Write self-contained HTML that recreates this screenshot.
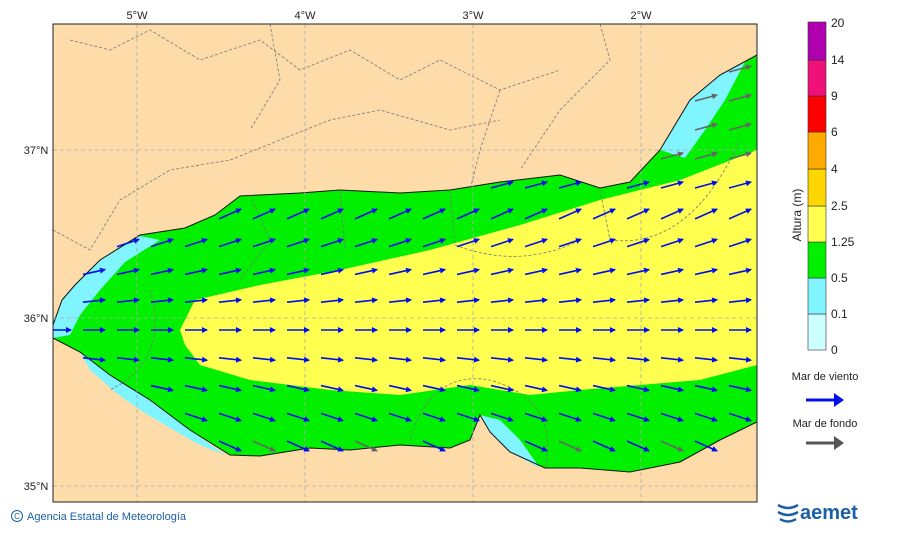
<!DOCTYPE html>
<html><head><meta charset="utf-8"><style>
body{margin:0;background:#fff;width:900px;height:533px;overflow:hidden;font-family:"Liberation Sans","DejaVu Sans",sans-serif}
</style></head><body>
<svg id="s" width="900" height="533" viewBox="0 0 900 533" xmlns="http://www.w3.org/2000/svg">
<defs><clipPath id="c"><rect x="53" y="24" width="704" height="478"/></clipPath>
<marker id="mb" markerWidth="6" markerHeight="6" refX="5" refY="3" orient="auto" markerUnits="userSpaceOnUse"><path d="M0,0 L6,3 L0,6z" fill="#0010e8"/></marker>
<marker id="mg" markerWidth="6" markerHeight="6" refX="5" refY="3" orient="auto" markerUnits="userSpaceOnUse"><path d="M0,0 L6,3 L0,6z" fill="#666"/></marker>
</defs>
<g clip-path="url(#c)">
<rect x="53" y="24" width="704" height="478" fill="#fddcaa"/>
<path id="sea" d="M53,325 L62,300 L75,285 L100,260 L140,235 L185,228 L215,215 L240,196 L300,193 L340,190 L400,193 L450,190 L500,182 L560,175 L600,188 L630,182 L660,150 L690,100 L720,75 L757,55 L757,422 L720,440 L680,462 L630,472 L580,468 L545,468 L510,452 L490,432 L480,415 L470,440 L450,448 L400,445 L350,450 L310,448 L260,456 L230,455 L190,430 L150,400 L110,375 L80,352 L53,338 Z" fill="#00f000"/>
<path d="M53,322 L62,300 L75,285 L100,260 L140,236 L160,240 L125,262 L100,290 L80,315 L70,335 L53,338Z" fill="#80f4ff"/>
<path d="M80,352 L110,375 L150,400 L190,430 L225,455 L200,445 L170,428 L140,410 L115,392 L90,370Z" fill="#80f4ff"/>
<path d="M660,150 L690,100 L720,75 L745,62 L725,100 L705,130 L685,158 Z" fill="#80f4ff"/>
<path d="M480,415 L490,432 L510,452 L540,468 L520,440 L500,420Z" fill="#80f4ff"/>
<path d="M180,330 L195,300 L260,285 L340,270 L430,250 L520,225 L600,200 L680,180 L757,150 L757,365 L700,380 L640,385 L580,390 L530,395 L470,385 L400,395 L330,390 L250,380 L200,365 L185,345Z" fill="#ffff50"/>
<path id="sea2" d="M53,325 L62,300 L75,285 L100,260 L140,235 L185,228 L215,215 L240,196 L300,193 L340,190 L400,193 L450,190 L500,182 L560,175 L600,188 L630,182 L660,150 L690,100 L720,75 L757,55 L757,422 L720,440 L680,462 L630,472 L580,468 L545,468 L510,452 L490,432 L480,415 L470,440 L450,448 L400,445 L350,450 L310,448 L260,456 L230,455 L190,430 L150,400 L110,375 L80,352 L53,338 Z" fill="none" stroke="#111" stroke-width="1"/>
<g stroke="#777" stroke-width="0.8" stroke-dasharray="3,2" fill="none">
<path d="M70,40 L110,50 L150,30 L200,60 L260,40 L300,70 L350,50 L400,80 L440,60 L500,90 L560,70"/>
<path d="M53,230 L90,250 L120,200 L170,170 L230,160 L280,140 L330,120 L380,110 L450,130 L500,120"/>
<path d="M270,24 L280,80 L250,130 M500,90 L480,150 L470,190 M600,24 L610,60 L560,110 L520,170"/>
<path d="M250,195 L270,240 L240,280 M340,190 L345,250 M450,190 L455,245 M600,190 L610,240"/>
<path d="M455,245 Q520,270 580,240 M610,240 Q690,250 740,140"/>
<path d="M410,440 Q430,370 490,380 Q560,400 545,468"/>
<path d="M150,290 Q170,360 110,390"/>
</g>
<g stroke="#aaa" stroke-width="0.8" stroke-dasharray="4,3">
<line x1="137" y1="24" x2="137" y2="502"/><line x1="305" y1="24" x2="305" y2="502"/><line x1="473" y1="24" x2="473" y2="502"/><line x1="641" y1="24" x2="641" y2="502"/>
<line x1="53" y1="150" x2="757" y2="150"/><line x1="53" y1="318" x2="757" y2="318"/><line x1="53" y1="486" x2="757" y2="486"/>
</g>
<g id="arr"></g>
</g>
<rect x="53" y="24" width="704" height="478" fill="none" stroke="#222" stroke-width="1"/>
<g font-size="11" fill="#222" text-anchor="middle">
<text x="137" y="19">5°W</text><text x="305" y="19">4°W</text><text x="473" y="19">3°W</text><text x="641" y="19">2°W</text>
<text x="36" y="154">37°N</text><text x="36" y="322">36°N</text><text x="36" y="490">35°N</text>
</g>
<g stroke="#333" stroke-width="0.6">
<rect x="808" y="314" width="18" height="36" fill="#ccffff"/>
<rect x="808" y="278" width="18" height="36" fill="#80f4ff"/>
<rect x="808" y="242" width="18" height="36" fill="#00f000"/>
<rect x="808" y="206" width="18" height="36" fill="#ffff50"/>
<rect x="808" y="169" width="18" height="37" fill="#ffd700"/>
<rect x="808" y="132" width="18" height="37" fill="#ffaa00"/>
<rect x="808" y="96" width="18" height="36" fill="#ff0000"/>
<rect x="808" y="60" width="18" height="36" fill="#f0107a"/>
<rect x="808" y="22" width="18" height="38" fill="#b000b0"/>
</g>
<g font-size="12" fill="#222">
<text x="831" y="27">20</text><text x="831" y="64">14</text><text x="831" y="100">9</text><text x="831" y="136">6</text><text x="831" y="173">4</text><text x="831" y="210">2.5</text><text x="831" y="246">1.25</text><text x="831" y="282">0.5</text><text x="831" y="318">0.1</text><text x="831" y="354">0</text>
</g>
<text transform="translate(801,215) rotate(-90)" font-size="12" fill="#222" text-anchor="middle">Altura (m)</text>
<text x="825" y="380" font-size="11" fill="#222" text-anchor="middle">Mar de viento</text>
<line x1="806" y1="400" x2="836" y2="400" stroke="#0010e8" stroke-width="3"/><path d="M834,393 L844,400 L834,407z" fill="#0010e8"/>
<text x="825" y="427" font-size="11" fill="#222" text-anchor="middle">Mar de fondo</text>
<line x1="806" y1="443" x2="836" y2="443" stroke="#555" stroke-width="3"/><path d="M834,436 L844,443 L834,450z" fill="#555"/>
<circle cx="17" cy="516" r="5.5" fill="none" stroke="#1a5fa8" stroke-width="1"/><text x="17" y="519" font-size="8" fill="#1a5fa8" text-anchor="middle">C</text>
<text x="27" y="520" font-size="11" fill="#1a5fa8">Agencia Estatal de Meteorología</text>
<text x="800" y="519" font-size="20" font-weight="bold" fill="#1a5fa8">aemet</text>
<path d="M778,505 q10,6 20,0 M778,512 q10,6 20,0 M780,519 q8,5 16,0" stroke="#1a5fa8" stroke-width="2.5" fill="none"/>
</svg>
<script>
var g=document.getElementById('arr'),sea=document.getElementById('sea2'),ns='http://www.w3.org/2000/svg';
var svg=document.getElementById('s');
for(var y=40;y<500;y+=29){for(var x=60;x<760;x+=34){
 var p=svg.createSVGPoint();p.x=x;p.y=y;
 var inside=false;try{inside=sea.isPointInFill(p);}catch(e){}
 if(!inside)continue;
 var dy=(y-330)/12; if(y<200)dy=-6; 
 var gray=(x>650&&y<160)||(y>420&&x%3==0);
 var l=document.createElementNS(ns,'line');
 l.setAttribute('x1',x-11);l.setAttribute('y1',y-dy/2);l.setAttribute('x2',x+11);l.setAttribute('y2',y+dy/2);
 l.setAttribute('stroke',gray?'#666':'#0010e8');l.setAttribute('stroke-width','1.6');
 l.setAttribute('marker-end',gray?'url(#mg)':'url(#mb)');g.appendChild(l);
}}
</script>
</body></html>
